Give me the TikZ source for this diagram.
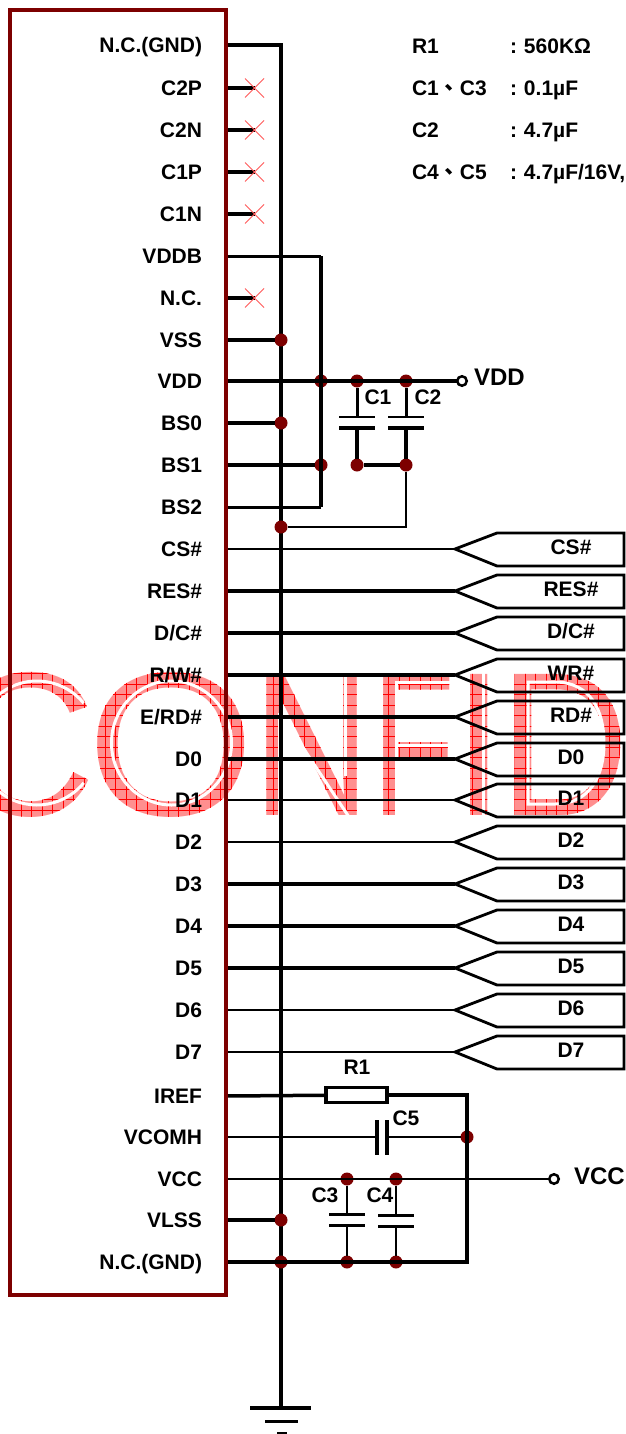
\documentclass[tikz,border=0pt]{standalone}
\usepackage{fontspec}
\setmainfont{Liberation Sans}
\newfontfamily\wmfont{Liberation Sans}
\newfontfamily\cjk{Noto Sans CJK TC}
\definecolor{chipred}{RGB}{125,0,0}
\definecolor{wmpink}{RGB}{255,143,143}
\definecolor{wmburn}{RGB}{255,76,76}
\tikzset{
  every node/.style={inner sep=0pt,outer sep=0pt,text=black},
  lab/.style={font=\fontsize{21}{21}\selectfont\bfseries},
  big/.style={font=\fontsize{24}{24}\selectfont\bfseries},
  wm/.style={font=\wmfont\fontsize{205}{205}\selectfont,text=wmpink,anchor=base},
  inline/.style={draw=white,line width=3pt},
  wire/.style={draw=black,line width=#1 pt},
  wire/.default=3,
  dot/.style={circle,fill=chipred,minimum size=13pt},
  opend/.style={circle,draw=black,fill=white,line width=2.5pt,minimum size=9.5pt},
  plate/.style={draw=black,line width=3pt},
  nocon/.style={draw=red!65,line width=1pt},
}
\begin{document}
\begin{tikzpicture}[x=1pt,y=-1pt]
\useasboundingbox (0,0) rectangle (626,1434);
\fill[white] (0,0) rectangle (626,1434);
\begin{scope}
\clip (0,0) rectangle (626,1434);
% watermark
\node[wm,xscale=.95] (wmC) at (26,815) {C};
\node[wm,xscale=1.05] (wmO) at (171.5,815) {O};
\node[wm,xscale=.79] (wmN) at (312,815) {N};
\node[wm,xscale=.66] (wmF) at (414,815) {F};
\node[wm,xscale=.9] (wmI) at (479.5,815) {I};
\node[wm,xscale=.87] (wmD) at (565,815) {D};
\begin{scope}[blend mode=color burn]
\foreach \gx in {0,10.5,...,626} \draw[wmburn,line width=.7pt] (\gx,660) -- (\gx,825);
\foreach \gy in {663,673.5,...,825} \draw[wmburn,line width=.7pt] (0,\gy) -- (626,\gy);
\end{scope}
\draw[inline] (37,743) ++(40:61 and 62) arc[start angle=40,end angle=320,x radius=61,y radius=62];
\draw[inline] (171.5,743) ellipse[x radius=60,y radius=62];
\draw[inline] (279.5,713) -- (279.5,820);
\draw[inline] (345,665) -- (345,776);
\draw[inline] (280,713) -- (351,820);
\draw[inline] (396,820) -- (396,682) -- (452,682);
\draw[inline] (396,745) -- (452,745);
\draw[inline] (483.5,665) -- (483.5,820);
\draw[inline] (528,682) -- (555,682) .. controls (590,682) and (604,710) .. (604,743) .. controls (604,776) and (590,804) .. (555,804) -- (528,804) -- cycle;
\end{scope}
% pins
\foreach \n/\t/\y in {GNDa/{N.C.(GND)}/45,C2P/C2P/88,C2N/C2N/130,C1P/C1P/172,C1N/C1N/214,VDDB/VDDB/256,NC/N.C./298,VSS/VSS/340,VDD/VDD/381,BSz/BS0/423,BSa/BS1/465,BSb/BS2/507,CS/CS\#/549,RES/RES\#/591,DC/D\slash C\#/633,RW/R\slash W\#/675,ER/E\slash RD\#/717,Dz/D0/759,Da/D1/800,Db/D2/842,Dc/D3/884,Dd/D4/926,De/D5/968,Df/D6/1010,Dg/D7/1052,IREF/IREF/1096,VCOMH/VCOMH/1137,VCC/VCC/1179,VLSS/VLSS/1220,GNDb/{N.C.(GND)}/1262}{
  \coordinate (pin\n) at (226,\y);
  \node[lab,anchor=base east] (lbl\n) at (202,\y+7.5) {\t};
}
% bus and ground
\coordinate (busTop) at (281,45);
\coordinate (gndTop) at (281,1408);
\draw[wire=4,line join=miter] (pinGNDa) -- (busTop) -- (gndTop);
\coordinate (gA) at (250,1408); \coordinate (gB) at (311,1408);
\coordinate (gC) at (265,1421); \coordinate (gD) at (298,1421);
\coordinate (gE) at (277,1433); \coordinate (gF) at (287,1433);
\draw[wire=4] (gA) -- (gB);
\draw[wire=3] (gC) -- (gD);
\draw[wire=3] (gE) -- (gF);
% unconnected pins
\foreach \n/\y in {C2P/88,C2N/130,C1P/172,C1N/214,NC/298}{
  \coordinate (x\n) at (255,\y);
  \draw[wire=3.5] (pin\n) -- (x\n);
  \draw[nocon] (245,\y-9.5) -- (264,\y+9.5) (245,\y+9.5) -- (264,\y-9.5);
}
% junctions
\foreach \n/\x/\y in {jVSS/281/340,jBSz/281/423,jBus/281/527,jVLSS/281/1220,jGNDb/281/1262,jVDD/321/381,jBSa/321/465,jC1t/357/381,jC2t/406/381,jC1b/357/465,jC2b/406/465,jC5/467/1137,jC3t/347/1179,jC4t/396/1179,jC3b/347/1262,jC4b/396/1262}{
  \node[dot] (\n) at (\x,\y) {};
}
\draw[wire=3.5] (pinVSS) -- (jVSS);
\draw[wire=3.5] (pinBSz) -- (jBSz);
\draw[wire=3.5] (pinBSa) -- (jBSa);
\draw[wire=3.5] (pinVLSS) -- (jVLSS);
\coordinate (vddbT) at (321,256); \coordinate (vddbB) at (321,507);
\draw[wire=3] (pinVDDB) -- (vddbT);
\draw[wire=4] (vddbT) -- (vddbB);
\draw[wire=3] (vddbB) -- (pinBSb);
% VDD
\node[opend] (oVDD) at (462,381) {};
\draw[wire=3.5] (pinVDD) -- (oVDD);
\node[big,anchor=west] (tVDD) at (474,377) {VDD};
% C1 C2
\foreach \n/\x/\a/\b in {One/357/jC1t/jC1b,Two/406/jC2t/jC2b}{
  \coordinate (pa\n) at (\x,417); \coordinate (pb\n) at (\x,428);
  \draw[wire=3] (\a) -- (pa\n);
  \draw[wire=3.5] (pb\n) -- (\b);
  \draw[plate,line width=2.7pt] (\x-18,417) -- (\x+18,417);
  \draw[plate,line width=4pt] (\x-18,428) -- (\x+18,428);
}
\draw[wire=3.5] (jC1b) -- (jC2b);
\coordinate (retC) at (406,527);
\draw[wire=2.8] (jC2b) -- (retC) -- (jBus);
\node[lab] (tCa) at (378,397) {C1};
\node[lab] (tCb) at (428,397) {C2};
% signal connectors
\foreach \n/\t/\y/\w in {CS/CS\#/549/2.8,RES/RES\#/591/3.5,DC/D\slash C\#/633/3.5,RW/WR\#/675/3.5,ER/RD\#/717/3.5,Dz/D0/759/3.5,Da/D1/800/2.8,Db/D2/842/2.8,Dc/D3/884/3.5,Dd/D4/926/3.5,De/D5/968/3.5,Df/D6/1010/2.8,Dg/D7/1052/2.8}{
  \coordinate (tip\n) at (455,\y);
  \draw[wire=\w] (pin\n) -- (tip\n);
  \draw[wire=2.8,line join=miter] (tip\n) -- (497,\y-16) -- (624,\y-16) -- (624,\y+17) -- (497,\y+17) -- cycle;
  \node[lab,anchor=base] (sig\n) at (571,\y+5) {\t};
}
% R1 / C5 / return
\node[draw=black,line width=3.5pt,minimum width=61pt,minimum height=15pt] (rOne) at (356.5,1095) {};
\draw[wire=3.5] (pinIREF) -- (rOne);
\coordinate (retA) at (467,1095); \coordinate (retB) at (467,1262);
\draw[wire=4,line join=miter] (rOne) -- (retA) -- (retB) -- (pinGNDb);
\node[lab] (tR) at (357,1067) {R1};
\coordinate (cfa) at (377,1137); \coordinate (cfb) at (387,1137);
\draw[wire=2.8] (pinVCOMH) -- (cfa);
\draw[wire=2.8] (cfb) -- (jC5);
\draw[plate,line width=3.8pt] (377,1120) -- (377,1155);
\draw[plate,line width=3.8pt] (387,1120) -- (387,1155);
\node[lab] (tCe) at (406,1118) {C5};
% VCC
\node[opend] (oVCC) at (554,1179) {};
\draw[wire=2.8] (pinVCC) -- (oVCC);
\node[big,anchor=west] (tVCC) at (574,1176) {VCC};
\foreach \n/\x/\a/\b/\ya/\yb in {Three/347/jC3t/jC3b/1214/1225,Four/396/jC4t/jC4b/1215/1226}{
  \coordinate (pa\n) at (\x,\ya); \coordinate (pb\n) at (\x,\yb);
  \draw[wire=2.8] (\a) -- (pa\n);
  \draw[wire=2.8] (pb\n) -- (\b);
  \draw[plate,line width=3pt] (\x-18,\ya) -- (\x+18,\ya);
  \draw[plate,line width=3pt] (\x-18,\yb) -- (\x+18,\yb);
}
\node[lab] (tCc) at (325,1195) {C3};
\node[lab] (tCd) at (380,1195) {C4};
% chip outline
\node[draw=chipred,line width=4pt,minimum width=216pt,minimum height=1285pt] (chip) at (118,652.5) {};
% parts list
\node[lab,anchor=base west] (vA) at (412,54) {R1};
\node[lab,anchor=base west] (vAb) at (510,54) {:\hspace{7pt}560K\char"03A9};
\node[lab,anchor=base west] (vB) at (412,96) {C1{\cjk 、}C3};
\node[lab,anchor=base west] (vBb) at (510,96) {:\hspace{7pt}0.1µF};
\node[lab,anchor=base west] (vC) at (412,138) {C2};
\node[lab,anchor=base west] (vCb) at (510,138) {:\hspace{7pt}4.7µF};
\node[lab,anchor=base west] (vD) at (412,180) {C4{\cjk 、}C5};
\node[lab,anchor=base west] (vDb) at (510,180) {:\hspace{7pt}4.7µF/16V,};
\end{tikzpicture}
\end{document}
